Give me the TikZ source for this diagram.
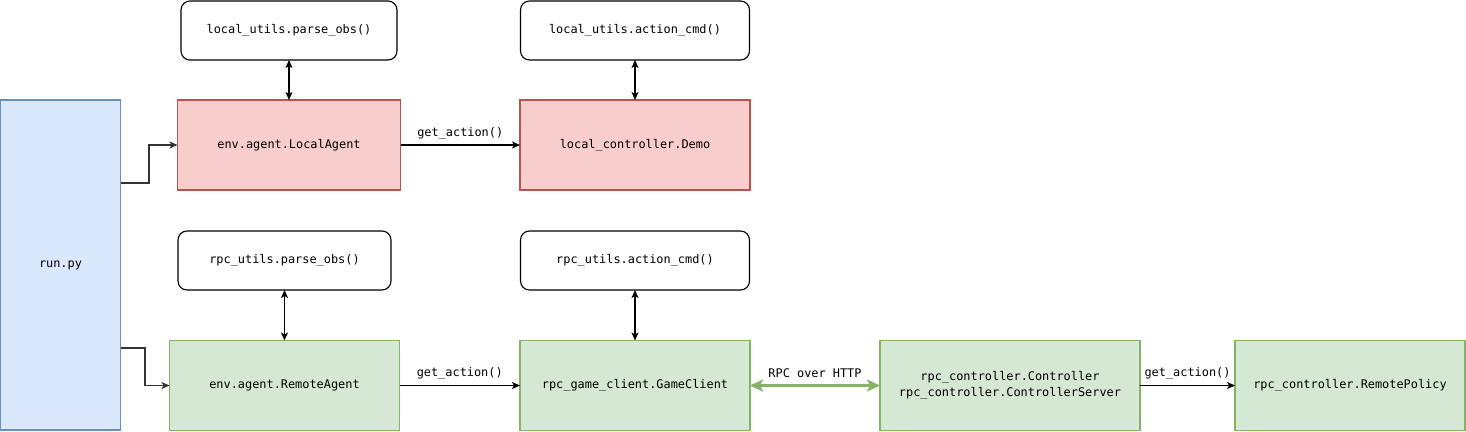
\documentclass[tikz,border=0pt]{standalone}
\usepackage{fontspec}
\setmonofont{DejaVu Sans Mono}
\usetikzlibrary{arrows.meta}
\definecolor{bluefill}{HTML}{DAE8FC}
\definecolor{bluedraw}{HTML}{6C8EBF}
\definecolor{redfill}{HTML}{F8CECC}
\definecolor{reddraw}{HTML}{B85450}
\definecolor{greenfill}{HTML}{D5E8D4}
\definecolor{greendraw}{HTML}{82B366}
\definecolor{linkgray}{HTML}{333333}
\begin{document}
\begin{tikzpicture}[x=1pt,y=-1pt,
  font=\ttfamily\fontsize{11.9}{16}\selectfont,
  every node/.style={inner sep=0pt, outer sep=0pt, line width=1.1pt},
  utilbox/.style={draw=black, fill=white, rounded corners=9pt, minimum height=59pt},
  bluebox/.style={draw=bluedraw, fill=bluefill},
  redbox/.style={draw=reddraw, fill=redfill, minimum height=90pt},
  greenbox/.style={draw=greendraw, fill=greenfill, minimum height=90pt},
  tip/.style={-{Stealth[length=8pt,width=7pt,inset=2pt]}},
  bitip/.style={{Stealth[length=8pt,width=7pt,inset=2pt]}-{Stealth[length=8pt,width=7pt,inset=2pt]}},
  link/.style={line width=1.2pt, draw=black},
  rpclink/.style={line width=2.8pt, draw=greendraw,
    {Stealth[length=13pt,width=12pt,inset=3pt]}-{Stealth[length=13pt,width=12pt,inset=3pt]}},
  lbl/.style={above=6pt, fill=none}
]
\useasboundingbox (0,0) rectangle (1466,431);

% nodes
\node[bluebox, minimum width=120pt, minimum height=330pt] (run) at (60.5,265) {run.py};

\node[utilbox, minimum width=216pt] (lpo) at (289,30.5) {local\_utils.parse\_obs()};
\node[utilbox, minimum width=229pt] (lac) at (635,30.5) {local\_utils.action\_cmd()};
\node[redbox, minimum width=223pt] (la) at (289,145) {env.agent.LocalAgent};
\node[redbox, minimum width=230pt] (demo) at (635,145) {local\_controller.Demo};

\node[utilbox, minimum width=213pt] (rpo) at (284.5,260.5) {rpc\_utils.parse\_obs()};
\node[utilbox, minimum width=229pt] (rac) at (635,260.5) {rpc\_utils.action\_cmd()};
\node[greenbox, minimum width=230pt] (ra) at (284.5,385.5) {env.agent.RemoteAgent};
\node[greenbox, minimum width=230pt] (gc) at (635,385.5) {rpc\_game\_client.GameClient};
\node[greenbox, minimum width=260pt, align=center] (ctl) at (1010,385.5)
  {rpc\_controller.Controller\\rpc\_controller.ControllerServer};
\node[greenbox, minimum width=230pt] (rp) at (1350,385.5) {rpc\_controller.RemotePolicy};

% connectors
\draw[link, linkgray, tip] (run.east |- 0,183) -- (149,183) |- (la.west);
\draw[link, linkgray, tip] (run.east |- 0,348) -- (145,348) |- (ra.west);

\draw[link, bitip] (lpo.south) -- (lpo.south |- la.north);
\draw[link, bitip] (lac.south) -- (lac.south |- demo.north);
\draw[link, bitip] (rpo.south) -- (rpo.south |- ra.north);
\draw[link, bitip] (rac.south) -- (rac.south |- gc.north);

\draw[link, tip] (la.east) -- node[lbl] {get\_action()} (demo.west);
\draw[link, tip] (ra.east) -- node[lbl] {get\_action()} (gc.west);
\draw[rpclink] (gc.east) -- node[above=8pt] {RPC over HTTP} (ctl.west);
\draw[link, tip] (ctl.east) -- node[lbl] {get\_action()} (rp.west);
\end{tikzpicture}
\end{document}
